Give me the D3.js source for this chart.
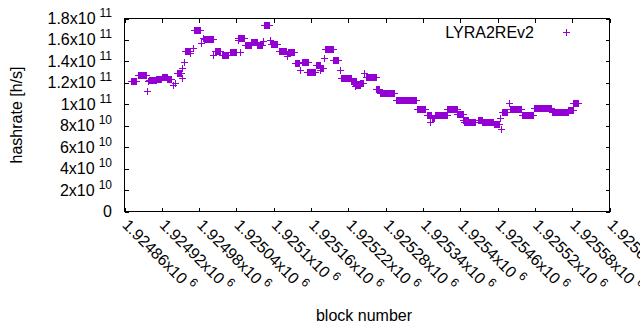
<!DOCTYPE html>
<html>
<head>
<meta charset="utf-8">
<script src="https://cdn.jsdelivr.net/npm/d3@7"></script>
<style>
  body { margin: 0; background: #fff; }
  text { font-family: "Liberation Sans", Arial, sans-serif; fill: #000; }
</style>
</head>
<body>
<script>
// runs of consecutive blocks that share one hashrate estimate
// (a run with from == to is a single block)
var runFrom = [1924871, 1924881, 1924896, 1924898, 1924899, 1924911, 1924921, 1924929, 1924938, 1924942,
  1924944, 1924952, 1924952, 1924955, 1924958, 1924966, 1924970, 1924971, 1924983, 1924987,
  1924988, 1925002, 1925006, 1925016, 1925029, 1925042, 1925043, 1925045, 1925053, 1925063,
  1925073, 1925082, 1925085, 1925094, 1925095, 1925109, 1925122, 1925123, 1925134, 1925142,
  1925145, 1925154, 1925168, 1925174, 1925175, 1925181, 1925183, 1925195, 1925206, 1925208,
  1925225, 1925230, 1925233, 1925239, 1925245, 1925248, 1925264, 1925271, 1925296, 1925330,
  1925346, 1925351, 1925354, 1925360, 1925379, 1925395, 1925405, 1925406, 1925428, 1925435,
  1925454, 1925464, 1925466, 1925467, 1925478, 1925480, 1925499, 1925518, 1925547, 1925574,
  1925582];
var runTo = [1924879, 1924894, 1924896, 1924898, 1924910, 1924919, 1924929, 1924935, 1924938, 1924942,
  1924951, 1924952, 1924952, 1924955, 1924966, 1924966, 1924970, 1924981, 1924983, 1924987,
  1925003, 1925002, 1925014, 1925027, 1925040, 1925042, 1925052, 1925045, 1925064, 1925073,
  1925081, 1925082, 1925092, 1925094, 1925106, 1925119, 1925122, 1925133, 1925141, 1925142,
  1925155, 1925167, 1925175, 1925174, 1925180, 1925181, 1925195, 1925203, 1925206, 1925224,
  1925232, 1925230, 1925238, 1925243, 1925245, 1925264, 1925269, 1925294, 1925329, 1925344,
  1925353, 1925351, 1925358, 1925378, 1925394, 1925404, 1925412, 1925424, 1925435, 1925453,
  1925463, 1925464, 1925466, 1925475, 1925478, 1925498, 1925517, 1925546, 1925573, 1925581,
  1925590];
// hashrate in GH/s (1e9 h/s)
var hashrateGH = [122.0, 127.0, 112.0, 121.7, 123.1, 123.6, 125.0, 123.6, 117.9, 120.1,
  129.2, 124.2, 133.6, 139.7, 149.5, 147.6, 152.3, 168.9, 157.0, 161.6,
  160.5, 146.0, 149.8, 146.0, 148.4, 160.1, 162.2, 148.5, 155.4, 158.5,
  155.4, 159.1, 174.1, 160.1, 156.3, 149.5, 145.4, 148.8, 138.2, 132.0,
  139.2, 130.4, 136.4, 132.0, 134.1, 142.9, 151.6, 141.3, 132.0, 124.8,
  121.7, 117.3, 117.6, 120.1, 128.9, 125.1, 113.9, 110.7, 103.9, 95.2,
  89.9, 83.6, 86.8, 89.9, 95.2, 90.8, 85.8, 83.6, 85.6, 83.6,
  81.7, 86.8, 77.4, 92.4, 101.4, 95.2, 90.3, 96.1, 92.9, 94.5,
  100.8];

var xTicks = [1924860, 1924920, 1924980, 1925040, 1925100, 1925160, 1925220,
  1925280, 1925340, 1925400, 1925460, 1925520, 1925580, 1925640];
var xTickLabels = ["1.92486x10", "1.92492x10", "1.92498x10", "1.92504x10", "1.9251x10", "1.92516x10", "1.92522x10",
  "1.92528x10", "1.92534x10", "1.9254x10", "1.92546x10", "1.92552x10", "1.92558x10", "1.92564x10"];
var xTickExps = ["6", "6", "6", "6", "6", "6", "6", "6", "6", "6", "6", "6", "6", "6"];

var yTicks = [0, 20, 40, 60, 80, 100, 120, 140, 160, 180];
var yTickLabels = ["0", "2x10", "4x10", "6x10", "8x10", "1x10", "1.2x10", "1.4x10", "1.6x10", "1.8x10"];
var yTickExps = ["", "10", "10", "10", "10", "11", "11", "11", "11", "11"];

var seriesName = "LYRA2REv2";
var color = "#9400d3";

var W = 640, H = 330;
var plot = { left: 124.5, right: 609.5, top: 18.5, bottom: 211.5 };
var h = 3.5; // half size of a "+" point

var svg = d3.select("body").append("svg")
    .attr("width", W)
    .attr("height", H);

var x = d3.scaleLinear()
    .domain([xTicks[0], xTicks[xTicks.length - 1]])
    .range([plot.left, plot.right]);

var y = d3.scaleLinear()
    .domain([0, 180])
    .range([plot.bottom, plot.top]);

// ticks on all four sides, pointing inward
svg.append("g")
    .attr("transform", "translate(0," + plot.bottom + ")")
    .call(d3.axisBottom(x).tickValues(xTicks).tickSize(-4).tickSizeOuter(0).tickFormat(""));
svg.append("g")
    .attr("transform", "translate(0," + plot.top + ")")
    .call(d3.axisTop(x).tickValues(xTicks).tickSize(-4).tickSizeOuter(0).tickFormat(""));
svg.append("g")
    .attr("transform", "translate(" + plot.left + ",0)")
    .call(d3.axisLeft(y).tickValues(yTicks).tickSize(-4).tickSizeOuter(0).tickFormat(""));
svg.append("g")
    .attr("transform", "translate(" + plot.right + ",0)")
    .call(d3.axisRight(y).tickValues(yTicks).tickSize(-4).tickSizeOuter(0).tickFormat(""));
svg.selectAll(".domain").remove();
svg.selectAll(".tick line").attr("stroke", "#000").attr("shape-rendering", "crispEdges");

svg.append("rect")
    .attr("x", plot.left).attr("y", plot.top)
    .attr("width", plot.right - plot.left).attr("height", plot.bottom - plot.top)
    .attr("fill", "none").attr("stroke", "#000")
    .attr("shape-rendering", "crispEdges");

// y tick labels
yTicks.forEach(function(v, i) {
  var t = svg.append("text")
      .attr("x", 112)
      .attr("y", y(v) + 5.5)
      .attr("text-anchor", "end")
      .style("font-size", "16px");
  t.append("tspan").text(yTickLabels[i]);
  if (yTickExps[i]) {
    t.append("tspan").attr("dx", 4).attr("dy", -7).style("font-size", "12px").text(yTickExps[i]);
  }
});

// x tick labels, rotated
xTicks.forEach(function(v, i) {
  var t = svg.append("text")
      .attr("transform", "translate(" + (x(v) + 1) + ",222) rotate(45)")
      .attr("dy", "0.35em")
      .style("font-size", "16px");
  t.append("tspan").text(xTickLabels[i]);
  t.append("tspan").attr("dx", 4).attr("dy", -7).style("font-size", "12px").text(xTickExps[i]);
});

svg.append("text")
    .attr("x", (plot.left + plot.right) / 2 - 3)
    .attr("y", 321)
    .attr("text-anchor", "middle")
    .style("font-size", "16px")
    .text("block number");

svg.append("text")
    .attr("transform", "translate(22," + ((plot.top + plot.bottom) / 2) + ") rotate(-90)")
    .attr("text-anchor", "middle")
    .style("font-size", "16px")
    .text("hashrate [h/s]");

// points
var runs = runFrom.map(function(d, i) {
  return { from: d, to: runTo[i], v: hashrateGH[i] };
});

var pts = svg.append("g").attr("shape-rendering", "crispEdges");
runs.forEach(function(d) {
  var x1 = Math.round(x(d.from)), x2 = Math.round(x(d.to));
  var cy = Math.round(y(d.v)) + 0.5;
  pts.append("rect")
      .attr("x", x1 - 0.5).attr("y", cy - h)
      .attr("width", x2 - x1 + 1).attr("height", 2 * h)
      .attr("fill", color);
  pts.append("path")
      .attr("d", "M" + (x1 - h) + "," + cy + "H" + (x2 + h))
      .attr("stroke", color).attr("fill", "none");
});

// legend
svg.append("text")
    .attr("x", 534)
    .attr("y", 38)
    .attr("text-anchor", "end")
    .style("font-size", "16px")
    .text(seriesName);
svg.append("path")
    .attr("d", "M" + (566.5 - h) + ",32.5H" + (566.5 + h) + "M566.5," + (32.5 - h) + "V" + (32.5 + h))
    .attr("stroke", color).attr("fill", "none")
    .attr("shape-rendering", "crispEdges");
</script>
</body>
</html>
